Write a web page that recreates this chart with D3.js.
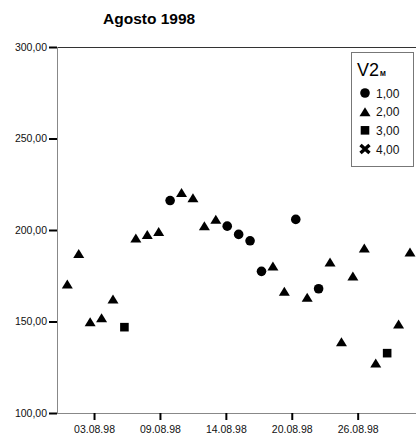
<!DOCTYPE html>
<html>
<head>
<meta charset="utf-8">
<script src="https://cdn.jsdelivr.net/npm/d3@7"></script>
<style>
  html, body { margin: 0; padding: 0; background: #fff; }
  svg { display: block; font-family: "Liberation Sans", Arial, sans-serif; }
</style>
</head>
<body>
<svg id="chart" width="416" height="441"></svg>
<script>
// ---- data ----
const days = [1,2,3,4,5,6,7,8,9,10,11,12,13,14,15,16,17,18,19,20,21,22,23,24,25,26,27,28,29,30,31];
const values = [170.5,187.2,149.8,152.1,162.3,146.9,195.6,197.6,199.2,216.1,220.5,217.6,202.3,205.9,202.1,197.6,194.1,177.4,180.3,166.5,205.8,163.2,167.9,182.5,138.9,174.9,190.1,127.3,132.7,148.7,188.0];
const groups = [2,2,2,2,2,3,2,2,2,1,2,2,2,2,1,1,1,1,2,2,1,2,1,2,2,2,2,2,3,2,2];
const legendValues = [1,2,3,4];
const legendLabels = ["1,00","2,00","3,00","4,00"];
const yTicks = [100,150,200,250,300];
const yTickLabels = ["100,00","150,00","200,00","250,00","300,00"];
const xTicks = [3.34,9.11,14.88,20.65,26.42];
const xTickLabels = ["03.08.98","09.08.98","14.08.98","20.08.98","26.08.98"];
const title = "Agosto 1998";

// ---- layout ----
(function () {
const svg = d3.select("#chart");
const pLeft = 57, pRight = 416, pTop = 47, pBottom = 413;

const x = d3.scaleLinear().domain([1,31]).range([67.3,410]);
const y = d3.scaleLinear().domain([100,300]).range([pBottom, pTop]);

// symbols
const triangle = { draw(ctx) { const w = 5.5, h = 4.5; ctx.moveTo(0,-h); ctx.lineTo(w,h); ctx.lineTo(-w,h); ctx.closePath(); } };
const square = { draw(ctx) { const s = 4.3; ctx.rect(-s,-s,2*s,2*s); } };
const circle = { draw(ctx) { const r = 4.8; ctx.moveTo(r,0); ctx.arc(0,0,r,0,2*Math.PI); } };
const symType = {1: circle, 2: triangle, 3: square};

// title
svg.append("text").attr("x",103).attr("y",24)
  .attr("font-size","15.5px").attr("font-weight","bold").attr("fill","#000")
  .text(title);

// top frame line
svg.append("line").attr("x1",pLeft).attr("x2",pRight).attr("y1",pTop+0.5).attr("y2",pTop+0.5)
  .attr("stroke","#333").attr("stroke-width",1);

// y axis
const yAxis = d3.axisLeft(y).tickValues(yTicks).tickSize(8).tickPadding(2)
  .tickFormat((d,i) => yTickLabels[i]);
const gy = svg.append("g").attr("transform",`translate(${pLeft},0)`).call(yAxis);
gy.select(".domain").attr("stroke","#888").attr("d",`M0.5,${pTop}V${pBottom}`);
gy.selectAll(".tick line").attr("stroke","#000").attr("stroke-width",2);
gy.selectAll(".tick text").attr("font-size","10.5px").attr("fill","#111")
  .attr("font-family","Liberation Sans, Arial, sans-serif");

// x axis
const xAxis = d3.axisBottom(x).tickValues(xTicks).tickSize(7).tickPadding(6)
  .tickFormat((d,i) => xTickLabels[i]);
const gx = svg.append("g").attr("transform",`translate(0,${pBottom})`).call(xAxis);
gx.select(".domain").attr("stroke","#888").attr("d",`M${pLeft},0.5H${pRight}`);
gx.selectAll(".tick line").attr("stroke","#000").attr("stroke-width",2);
gx.selectAll(".tick text").attr("font-size","10.5px").attr("fill","#111")
  .attr("font-family","Liberation Sans, Arial, sans-serif");

// points
const pts = days.map((d,i) => ({day:d, v:values[i], g:groups[i]}));
svg.append("g").selectAll("path").data(pts).join("path")
  .attr("transform", d => `translate(${x(d.day)},${y(d.v)})`)
  .attr("d", d => d3.symbol().type(symType[d.g])())
  .attr("fill","#000");

// legend
const lg = svg.append("g");
lg.append("rect").attr("x",351.5).attr("y",52.5).attr("width",62).attr("height",114)
  .attr("fill","#fff").attr("stroke","#777").attr("stroke-width",1);
const lt = lg.append("text").attr("x",357).attr("y",76).attr("fill","#000");
lt.append("tspan").attr("font-size","18px").text("V2");
lt.append("tspan").attr("font-size","7px").attr("font-weight","bold").attr("dx","1").text("M");

const rowY = d3.scaleLinear().domain([1,4]).range([93,149]);
legendValues.forEach((v,i) => {
  const cy = rowY(v);
  if (v === 4) {
    lg.append("path").attr("d", `M${360.5},${cy-4}L${369.5},${cy+4}M${369.5},${cy-4}L${360.5},${cy+4}`)
      .attr("stroke","#000").attr("stroke-width",3.5);
  } else {
    lg.append("path").attr("transform",`translate(365,${cy})`)
      .attr("d", d3.symbol().type(symType[v])()).attr("fill","#000");
  }
  lg.append("text").attr("x",376).attr("y",cy+4.5).attr("font-size","12px").attr("fill","#111")
    .text(legendLabels[i]);
});
})();
</script>
</body>
</html>
